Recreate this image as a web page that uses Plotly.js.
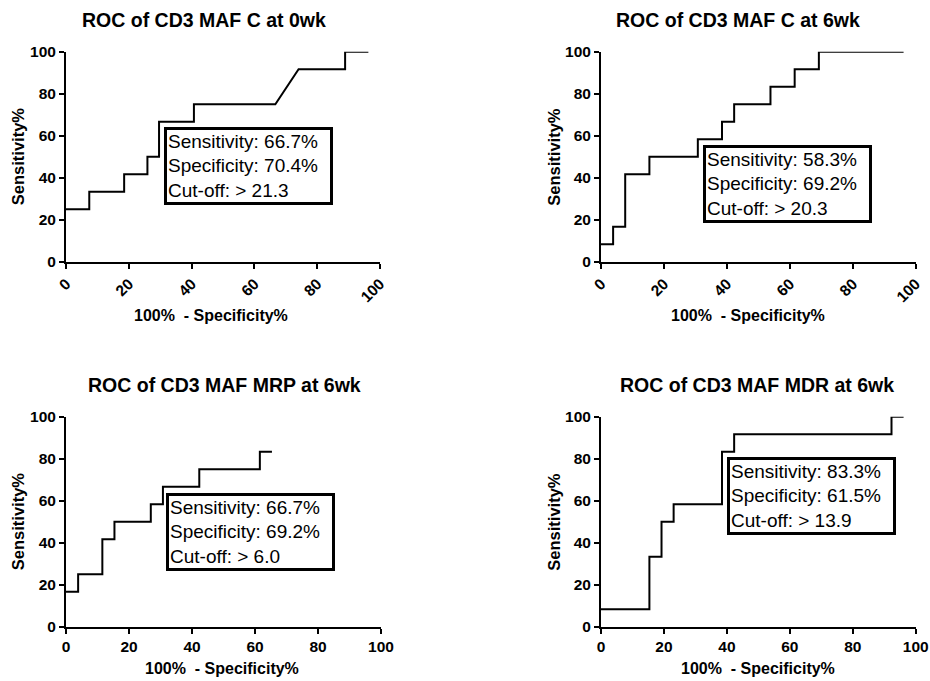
<!DOCTYPE html>
<html>
<head>
<meta charset="utf-8">
<script src="https://cdn.plot.ly/plotly-3.0.1.min.js"></script>
<style>html,body{margin:0;padding:0;background:#fff;}#chart{width:930px;height:681px;}</style>
</head>
<body>
<div id="chart"></div>
<script>
// ---- Data (100% - Specificity%, Sensitivity%) ----
const titles = ["ROC of CD3 MAF C at 0wk", "ROC of CD3 MAF C at 6wk", "ROC of CD3 MAF MRP at 6wk", "ROC of CD3 MAF MDR at 6wk"];

const fprC0 = [0, 7.41, 7.41, 18.52, 18.52, 25.93, 25.93, 29.63, 29.63, 40.74, 40.74, 66.67, 74.07, 88.89, 88.89, 96.3];
const tprC0 = [25, 25, 33.33, 33.33, 41.67, 41.67, 50, 50, 66.67, 66.67, 75, 75, 91.67, 91.67, 100, 100];

const fprC6 = [0, 3.85, 3.85, 7.69, 7.69, 15.38, 15.38, 30.77, 30.77, 38.46, 38.46, 42.31, 42.31, 53.85, 53.85, 61.54, 61.54, 69.23, 69.23, 96.15];
const tprC6 = [8.33, 8.33, 16.67, 16.67, 41.67, 41.67, 50, 50, 58.33, 58.33, 66.67, 66.67, 75, 75, 83.33, 83.33, 91.67, 91.67, 100, 100];

const fprMRP = [0, 3.85, 3.85, 11.54, 11.54, 15.38, 15.38, 26.92, 26.92, 30.77, 30.77, 42.31, 42.31, 61.54, 61.54, 65.38];
const tprMRP = [16.67, 16.67, 25, 25, 41.67, 41.67, 50, 50, 58.33, 58.33, 66.67, 66.67, 75, 75, 83.33, 83.33];

const fprMDR = [0, 15.38, 15.38, 19.23, 19.23, 23.08, 23.08, 38.46, 38.46, 42.31, 42.31, 92.31, 92.31, 96.15];
const tprMDR = [8.33, 8.33, 33.33, 33.33, 50, 50, 58.33, 58.33, 83.33, 83.33, 91.67, 91.67, 100, 100];

const sensitivity = ["66.7%", "58.3%", "66.7%", "83.3%"];
const specificity = ["70.4%", "69.2%", "69.2%", "61.5%"];
const cutoff = ["21.3", "20.3", "6.0", "13.9"];

const tickVals = [0, 20, 40, 60, 80, 100];
const xTitle = "100%  - Specificity%";
const yTitle = "Sensitivity%";

// ---- Layout helpers (pixel -> paper) ----
const W = 930, H = 681;
const px = v => v / W;
const py = v => 1 - v / H;
const FONT = 'Arial, "Liberation Sans", Helvetica, sans-serif';

const panels = [
  {x0: 66, x1: 380, y0: 51.7, y1: 261.7, rot: true, title: [204, 20], xt: [211, 315], yt: [17.5, 156.7], box: [164, 127]},
  {x0: 601, x1: 915.7, y0: 51.7, y1: 261.7, rot: true, title: [737.5, 20], xt: [747.5, 315], yt: [554, 156.7], box: [702.7, 145.3]},
  {x0: 66, x1: 381, y0: 416.7, y1: 626.7, rot: false, title: [224.7, 385], xt: [221.7, 668], yt: [17.5, 521.7], box: [166, 492.7]},
  {x0: 601, x1: 915.7, y0: 416.7, y1: 626.7, rot: false, title: [756.5, 385], xt: [757.5, 668], yt: [554, 521.7], box: [726.7, 457.3]}
];
const xs = [fprC0, fprC6, fprMRP, fprMDR];
const ys = [tprC0, tprC6, tprMRP, tprMDR];

const data = [];
const layout = {
  width: W, height: H,
  margin: {l: 0, r: 0, t: 0, b: 0},
  paper_bgcolor: '#fff', plot_bgcolor: '#fff',
  showlegend: false,
  font: {family: FONT, color: '#000'},
  annotations: []
};

panels.forEach((p, i) => {
  const n = i + 1;
  const xa = 'xaxis' + (n === 1 ? '' : n), ya = 'yaxis' + (n === 1 ? '' : n);
  data.push({
    type: 'scatter', mode: 'lines',
    x: xs[i], y: ys[i],
    xaxis: 'x' + (n === 1 ? '' : n), yaxis: 'y' + (n === 1 ? '' : n),
    line: {color: '#000', width: 2, shape: 'linear'},
    cliponaxis: false, hoverinfo: 'skip'
  });
  const common = {
    range: [0, 100], autorange: false, fixedrange: true,
    showgrid: false, zeroline: false,
    showline: true, linecolor: '#000', linewidth: 2,
    ticks: 'outside', ticklen: 5, tickwidth: 2, tickcolor: '#000',
    tickmode: 'array', tickvals: tickVals, ticktext: tickVals.map(String),
    tickfont: {family: FONT, size: 15.5, color: '#000', weight: 'bold'}
  };
  layout[xa] = Object.assign({}, common, {
    domain: [px(p.x0), px(p.x1)],
    anchor: 'y' + (n === 1 ? '' : n),
    tickangle: p.rot ? -45 : 0
  });
  layout[ya] = Object.assign({}, common, {
    domain: [py(p.y1), py(p.y0)],
    anchor: 'x' + (n === 1 ? '' : n)
  });
  // Panel title
  layout.annotations.push({
    xref: 'paper', yref: 'paper', x: px(p.title[0]), y: py(p.title[1]),
    xanchor: 'center', yanchor: 'middle', showarrow: false,
    text: '<b>' + titles[i] + '</b>',
    font: {family: FONT, size: 19.5, color: '#000'}
  });
  // X axis title
  layout.annotations.push({
    xref: 'paper', yref: 'paper', x: px(p.xt[0]), y: py(p.xt[1]),
    xanchor: 'center', yanchor: 'middle', showarrow: false,
    text: '<b>' + xTitle + '</b>',
    font: {family: FONT, size: 16, color: '#000'}
  });
  // Y axis title
  layout.annotations.push({
    xref: 'paper', yref: 'paper', x: px(p.yt[0]), y: py(p.yt[1]),
    xanchor: 'center', yanchor: 'middle', showarrow: false, textangle: -90,
    text: '<b>' + yTitle + '</b>',
    font: {family: FONT, size: 16.5, color: '#000'}
  });
  // Result box
  layout.annotations.push({
    xref: 'paper', yref: 'paper', x: px(p.box[0]), y: py(p.box[1]),
    xanchor: 'left', yanchor: 'top', showarrow: false, align: 'left',
    width: 161, height: 70,
    bgcolor: '#fff', bordercolor: '#000', borderwidth: 3, borderpad: 1,
    text: 'Sensitivity: ' + sensitivity[i] + '<br>Specificity: ' + specificity[i] + '<br>Cut-off: &gt; ' + cutoff[i],
    font: {family: FONT, size: 19, color: '#000'}
  });
});

Plotly.newPlot('chart', data, layout, {staticPlot: true, displayModeBar: false});
</script>
</body>
</html>
